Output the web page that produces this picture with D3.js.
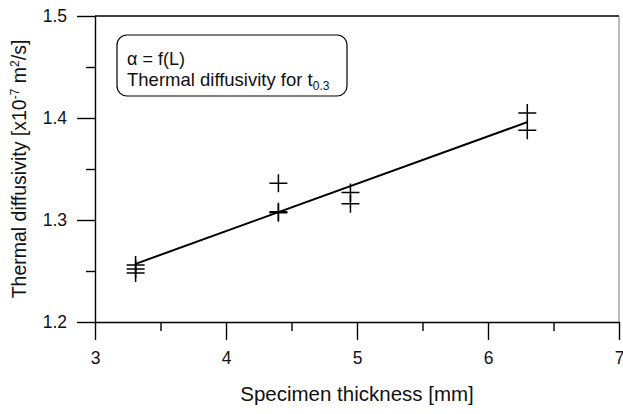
<!DOCTYPE html>
<html>
<head>
<meta charset="utf-8">
<script src="https://cdn.jsdelivr.net/npm/d3@7"></script>
<style>
  body{margin:0;background:#fff;}
  text{font-family:"Liberation Sans",Arial,sans-serif;fill:#111;}
</style>
</head>
<body>
<div id="chart"></div>
<script>
const thickness=[3.31,3.31,3.31,4.4,4.4,4.4,4.95,4.95,6.3,6.3];
const diffusivity=[1.256,1.252,1.248,1.336,1.308,1.307,1.327,1.316,1.405,1.388];
const fitLine=[[3.31,1.257],[6.3,1.396]];
const xTicks=[3,4,5,6,7], xMinor=[3.5,4.5,5.5,6.5];
const yTicks=[1.2,1.3,1.4,1.5], yMinor=[1.25,1.35,1.45];

const W=623,H=414,m={top:16,right:4,bottom:92,left:95};
const w=W-m.left-m.right, h=H-m.top-m.bottom;
const svg=d3.select("#chart").append("svg").attr("width",W).attr("height",H);
const g=svg.append("g").attr("transform",`translate(${m.left},${m.top})`);
const x=d3.scaleLinear().domain([3,7]).range([0,w]);
const y=d3.scaleLinear().domain([1.2,1.5]).range([h,0]);

// frame: top black, right grey
g.append("line").attr("x1",0).attr("x2",w).attr("y1",0).attr("y2",0).attr("stroke","#000").attr("stroke-width",1.3);
g.append("line").attr("x1",w).attr("x2",w).attr("y1",0).attr("y2",h).attr("stroke","#777").attr("stroke-width",1);

g.append("g").attr("transform",`translate(0,${h})`)
  .call(d3.axisBottom(x).tickValues(xTicks).tickFormat(d3.format("d")).tickSize(18).tickPadding(12).tickSizeOuter(0));
g.append("g").attr("transform",`translate(0,${h})`)
  .call(d3.axisBottom(x).tickValues(xMinor).tickFormat("").tickSize(9).tickSizeOuter(0))
  .call(s=>s.select(".domain").remove());
g.append("g")
  .call(d3.axisLeft(y).tickValues(yTicks).tickFormat(d3.format(".1f")).tickSize(18).tickPadding(10).tickSizeOuter(0));
g.append("g")
  .call(d3.axisLeft(y).tickValues(yMinor).tickFormat("").tickSize(9).tickSizeOuter(0))
  .call(s=>s.select(".domain").remove());
g.selectAll(".domain,.tick line").attr("stroke","#000").attr("stroke-width",1.4);
g.selectAll(".tick text").attr("font-size",17.5).attr("fill","#111");

// fit line
g.append("path").datum(fitLine)
  .attr("d",d3.line().x(d=>x(d[0])).y(d=>y(d[1])))
  .attr("fill","none").attr("stroke","#000").attr("stroke-width",2);

// crosses
const pts=thickness.map((t,i)=>[t,diffusivity[i]]);
g.selectAll(".pt").data(pts).join("path")
  .attr("transform",d=>`translate(${x(d[0])},${y(d[1])})`)
  .attr("d","M-9,0H9M0,-9V9").attr("stroke","#000").attr("stroke-width",1.5).attr("fill","none");

// legend box
const lg=g.append("g").attr("transform","translate(22,19)");
lg.append("rect").attr("width",230).attr("height",61).attr("rx",10)
  .attr("fill","#fff").attr("stroke","#000").attr("stroke-width",1.2);
lg.append("text").attr("x",10).attr("y",30).attr("font-size",18).text("α = f(L)");
const t2=lg.append("text").attr("x",10).attr("y",50.5).attr("font-size",18.5);
t2.append("tspan").text("Thermal diffusivity for t");
t2.append("tspan").attr("font-size",12).attr("dy",4).text("0.3");

// axis titles
svg.append("text").attr("x",m.left+w/2).attr("y",401).attr("text-anchor","middle").attr("font-size",20.5)
  .text("Specimen thickness [mm]");
const yt=svg.append("text").attr("transform",`translate(26,${m.top+h/2}) rotate(-90)`)
  .attr("text-anchor","middle").attr("font-size",19.5);
yt.append("tspan").text("Thermal diffusivity [x10");
yt.append("tspan").attr("font-size",12).attr("dy",-7).text("-7");
yt.append("tspan").attr("dy",7).text(" m");
yt.append("tspan").attr("font-size",12).attr("dy",-7).text("2");
yt.append("tspan").attr("dy",7).text("/s]");
</script>
</body>
</html>
